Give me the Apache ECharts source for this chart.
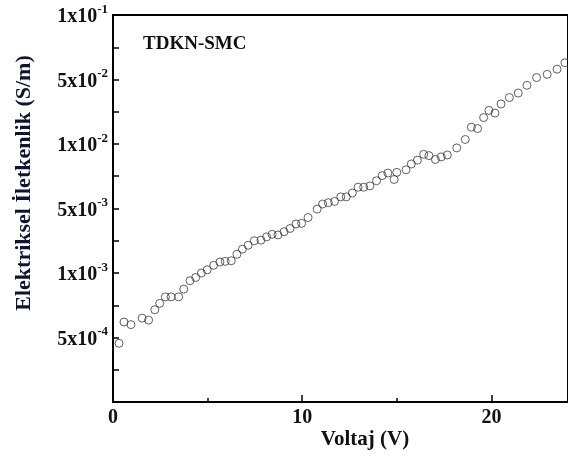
<!DOCTYPE html>
<html>
<head>
<meta charset="utf-8">
<script src="https://cdn.jsdelivr.net/npm/echarts@6/dist/echarts.min.js"></script>
<style>
html,body{margin:0;padding:0;background:#fff;}
#c{width:568px;height:458px;}
</style>
</head>
<body>
<div id="c"></div>
<script>
// Voltage (V)
const voltage = [0.32,0.58,0.95,1.54,1.88,2.21,2.47,2.77,3.07,3.47,3.74,4.07,4.37,4.67,4.98,5.32,5.65,5.93,6.25,6.55,6.84,7.14,7.47,7.82,8.12,8.41,8.72,9.04,9.36,9.67,9.97,10.31,10.79,11.08,11.38,11.71,12.04,12.33,12.65,12.95,13.25,13.58,13.93,14.23,14.53,14.86,15.00,15.49,15.77,16.09,16.42,16.70,17.04,17.35,17.67,18.17,18.62,18.94,19.27,19.59,19.87,20.19,20.51,20.95,21.42,21.88,22.39,22.95,23.47,23.89];
// Conductivity, in units of the (evenly spaced) labelled tick positions of the original axis
const conductivityLevel = [0.91,1.24,1.20,1.30,1.27,1.43,1.53,1.63,1.63,1.63,1.75,1.88,1.93,2.00,2.05,2.12,2.17,2.18,2.19,2.29,2.37,2.43,2.50,2.51,2.56,2.60,2.59,2.64,2.69,2.76,2.77,2.86,2.99,3.07,3.09,3.11,3.18,3.18,3.24,3.33,3.33,3.35,3.43,3.51,3.55,3.45,3.56,3.60,3.69,3.75,3.84,3.82,3.76,3.80,3.83,3.94,4.07,4.26,4.24,4.41,4.52,4.48,4.62,4.72,4.79,4.91,5.03,5.08,5.16,5.26];
// Tick labels on the y axis (mantissa, exponent), one per tick level 0..6
const yTickMantissa = ['', '5', '1', '5', '1', '5', '1'];
const yTickExponent = ['', '-4', '-3', '-3', '-2', '-2', '-1'];
const xTicks = [0, 10, 20];

const seriesData = voltage.map((v, i) => [v, conductivityLevel[i]]);
const FONT = '"Liberation Serif", "Times New Roman", serif';

const chart = echarts.init(document.getElementById('c'), null, {renderer: 'canvas'});
chart.setOption({
  animation: false,
  backgroundColor: '#fff',
  grid: {left: 113, top: 15, width: 457, height: 387, show: true, borderColor: '#000', borderWidth: 2, backgroundColor: 'transparent'},
  xAxis: {
    type: 'value', min: 0, max: 24.05, interval: 10,
    axisLine: {show: true, lineStyle: {color: '#000', width: 2}},
    axisTick: {show: true, inside: true, length: 7, lineStyle: {color: '#000', width: 1.5}},
    minorTick: {show: true, splitNumber: 2, length: 4, lineStyle: {color: '#000', width: 1.5}},
    splitLine: {show: false},
    axisLabel: {
      color: '#111', fontFamily: FONT, fontWeight: 'bold', fontSize: 20, margin: 6,
      showMaxLabel: false,
      formatter: v => xTicks.includes(v) ? String(v) : ''
    }
  },
  yAxis: {
    type: 'value', min: 0, max: 6, interval: 1,
    axisLine: {show: true, lineStyle: {color: '#000', width: 2}},
    axisTick: {show: true, inside: true, length: 6, lineStyle: {color: '#000', width: 1.5}},
    minorTick: {show: true, splitNumber: 2, length: 6, lineStyle: {color: '#000', width: 1.5}},
    splitLine: {show: false},
    axisLabel: {
      margin: 5,
      formatter: v => {
        const i = Math.round(v);
        if (!yTickMantissa[i]) return '';
        return '{a|' + yTickMantissa[i] + 'x10}{b|' + yTickExponent[i] + '}';
      },
      rich: {
        a: {color: '#111', fontFamily: FONT, fontWeight: 'bold', fontSize: 20, lineHeight: 24, verticalAlign: 'bottom'},
        b: {color: '#111', fontFamily: FONT, fontWeight: 'bold', fontSize: 13, lineHeight: 13, verticalAlign: 'top'}
      }
    }
  },
  graphic: [
    {type: 'text', left: 143, top: 35, style: {text: 'TDKN-SMC', fill: '#111', font: 'bold 19px ' + FONT}},
    {type: 'text', x: 365, y: 440, style: {text: 'Voltaj (V)', fill: '#111', font: 'bold 21px ' + FONT, align: 'center', verticalAlign: 'middle'}},
    {type: 'text', x: 24, y: 183, rotation: Math.PI / 2, style: {text: 'Elektriksel İletkenlik (S/m)', fill: '#0d1530', font: 'bold 22px ' + FONT, align: 'center', verticalAlign: 'middle'}}
  ],
  series: [{
    type: 'scatter',
    data: seriesData,
    symbol: 'circle',
    symbolSize: 8,
    itemStyle: {color: 'rgba(0,0,0,0)', borderColor: '#3a3a3a', borderWidth: 1},
    clip: false
  }]
});
</script>
</body>
</html>
